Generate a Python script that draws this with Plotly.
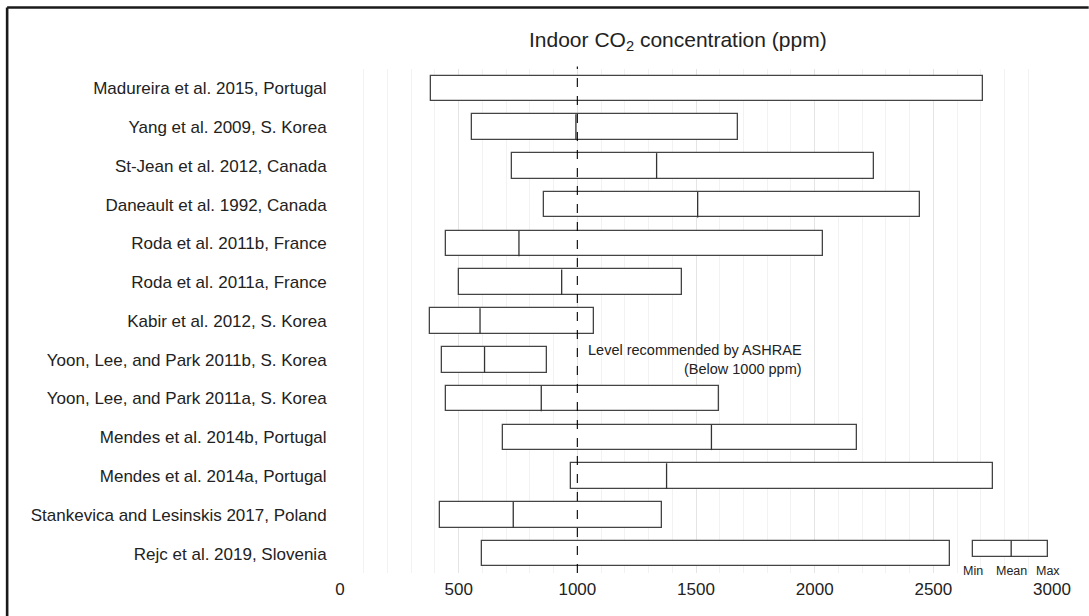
import plotly.graph_objects as go

studies = [
    "Madureira et al. 2015, Portugal",
    "Yang et al. 2009, S. Korea",
    "St-Jean et al. 2012, Canada",
    "Daneault et al. 1992, Canada",
    "Roda et al. 2011b, France",
    "Roda et al. 2011a, France",
    "Kabir et al. 2012, S. Korea",
    "Yoon, Lee, and Park 2011b, S. Korea",
    "Yoon, Lee, and Park 2011a, S. Korea",
    "Mendes et al. 2014b, Portugal",
    "Mendes et al. 2014a, Portugal",
    "Stankevica and Lesinskis 2017, Poland",
    "Rejc et al. 2019, Slovenia",
]
co2_min = [382, 556, 723, 861, 448, 503, 378, 428, 445, 688, 973, 422, 599]
co2_mean = [None, 994, 1334, 1507, 754, 934, 590, 609, 848, 1565, 1376, 730, None]
co2_max = [2710, 1675, 2252, 2443, 2037, 1442, 1070, 872, 1595, 2177, 2750, 1356, 2571]

ashrae_level = 1000
x_ticks = [0, 500, 1000, 1500, 2000, 2500, 3000]

legend_min, legend_mean, legend_max = 2668, 2828, 2982
legend_labels = ["Min", "Mean", "Max"]

n = len(studies)
ypos = [n - 1 - i for i in range(n)]

TEXT = "#222222"
EDGE = "#444444"
FONT = "Liberation Sans, Arial, sans-serif"
BW = 0.66

fig = go.Figure()

fig.add_trace(go.Bar(
    y=ypos,
    x=[mx - mn for mn, mx in zip(co2_min, co2_max)],
    base=co2_min,
    orientation="h",
    width=BW,
    marker=dict(color="white", line=dict(color=EDGE, width=1.3)),
    showlegend=False,
    hoverinfo="skip",
))

mx_, my_ = [], []
for y, m in zip(ypos, co2_mean):
    if m is None:
        continue
    mx_ += [m, m, None]
    my_ += [y - BW / 2, y + BW / 2, None]
fig.add_trace(go.Scatter(
    x=mx_, y=my_, mode="lines",
    line=dict(color="#333333", width=1.3),
    showlegend=False, hoverinfo="skip",
))

# Legend key box (drawn in data coordinates next to the last row)
key_h = 0.41
fig.add_trace(go.Bar(
    y=[0],
    x=[legend_max - legend_min],
    base=[legend_min],
    orientation="h",
    width=key_h,
    offset=BW / 2 - key_h,
    marker=dict(color="white", line=dict(color=EDGE, width=1.3)),
    showlegend=False, hoverinfo="skip",
))
fig.add_trace(go.Scatter(
    x=[legend_mean, legend_mean], y=[BW / 2 - key_h, BW / 2],
    mode="lines", line=dict(color="#333333", width=1.3),
    showlegend=False, hoverinfo="skip",
))
for xv, lab in zip([legend_min, legend_mean, legend_max], legend_labels):
    fig.add_annotation(x=xv, y=-0.44, text=lab, showarrow=False,
                       xanchor="center", yanchor="middle",
                       font=dict(size=12.5, color=TEXT, family=FONT))

# ASHRAE reference line
fig.add_shape(type="line", xref="x", yref="y domain",
              x0=ashrae_level, x1=ashrae_level, y0=0, y1=1.005,
              line=dict(color="black", width=1.1, dash="dash"))
fig.add_annotation(x=1955, y=5.0, xref="x", yref="y",
                   text="Level recommended by ASHRAE<br>(Below 1000 ppm)",
                   showarrow=False, xanchor="right", yanchor="middle",
                   align="right",
                   font=dict(size=14.5, color=TEXT, family=FONT))

# Title
fig.add_annotation(x=0.475, y=1.056, xref="paper", yref="paper",
                   text="Indoor CO<sub>2</sub> concentration (ppm)",
                   showarrow=False, xanchor="center", yanchor="middle",
                   font=dict(size=21, color=TEXT, family=FONT))

# Outer frame (left and top)
fr_left = (7 - 340) / 712.3
fr_right = (1089 - 340) / 712.3
fr_top = (573 - 7.5) / 504
fr_bot = (573 - 620) / 504
fig.add_shape(type="line", xref="paper", yref="paper",
              x0=fr_left, x1=fr_left, y0=fr_bot, y1=fr_top,
              line=dict(color="#1a1a1a", width=2.6))
fig.add_shape(type="line", xref="paper", yref="paper",
              x0=fr_left, x1=fr_right, y0=fr_top, y1=fr_top,
              line=dict(color="#1a1a1a", width=2.6))

fig.update_layout(
    width=1089, height=616,
    margin=dict(l=340, r=37, t=69, b=43),
    paper_bgcolor="white", plot_bgcolor="white",
    font=dict(family=FONT, color=TEXT, size=17),
    bargap=0,
    xaxis=dict(
        range=[0, 3000], tickvals=x_ticks,
        showgrid=True, gridcolor="#e4e4e4", gridwidth=1.2,
        minor=dict(dtick=100, showgrid=True, gridcolor="#f2f2f2", gridwidth=1),
        zeroline=False, showline=False,
        ticks="outside", ticklen=1, tickcolor="rgba(0,0,0,0)",
        tickfont=dict(size=17, color=TEXT, family=FONT),
        fixedrange=True,
    ),
    yaxis=dict(
        range=[-0.5, n - 0.5], tickvals=ypos, ticktext=studies,
        showgrid=False, zeroline=False, showline=False,
        ticks="outside", ticklen=9, tickcolor="rgba(0,0,0,0)",
        tickfont=dict(size=17, color=TEXT, family=FONT),
        fixedrange=True,
    ),
)

fig.write_html(
    "out.html",
    config={"displayModeBar": False},
    post_script="document.body.style.margin='0';document.body.style.overflow='hidden';",
)
